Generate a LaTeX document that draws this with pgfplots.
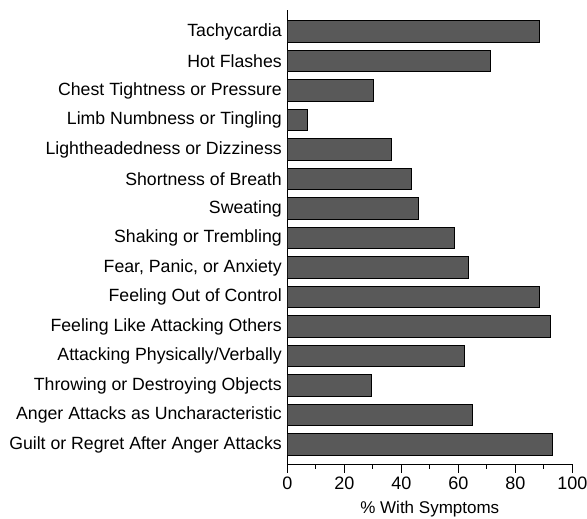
\documentclass[border=0pt]{standalone}
\usepackage{pgfplots}
\pgfplotsset{compat=1.18}
\usepackage{fontspec}
\setmainfont{Liberation Sans}
\definecolor{barfill}{HTML}{595959}
\begin{document}
\begin{tikzpicture}
\path[use as bounding box] (-287.3pt,-55pt) rectangle (299.7pt,464pt);
\begin{axis}[
  at={(0,0)}, anchor=south west,
  scale only axis, width=285pt, height=454pt,
  xbar, bar width=21.5pt,
  xmin=0, xmax=100, ymin=-0.66, ymax=14.73,
  axis x line*=bottom, axis y line*=left,
  axis line style={line width=0.9pt, black},
  xtick={0,20,...,100}, minor xtick={10,30,...,90},
  ytick={0,...,14},
  yticklabels={Guilt or Regret After Anger Attacks,Anger Attacks as Uncharacteristic,Throwing or Destroying Objects,Attacking Physically/Verbally,Feeling Like Attacking Others,Feeling Out of Control,{Fear, Panic, or Anxiety},Shaking or Trembling,Sweating,Shortness of Breath,Lightheadedness or Dizziness,Limb Numbness or Tingling,Chest Tightness or Pressure,Hot Flashes,Tachycardia},
  ytick style={draw=none}, ytick align=inside,
  xtick align=outside,
  x tick style={black, line width=0.9pt},
  major tick length=9pt, minor tick length=5pt,
  /pgf/number format/assume math mode=true,
  yticklabel style={font=\fontsize{17.7}{20}\selectfont, xshift=-2pt},
  xticklabel style={font=\fontsize{18}{20}\selectfont},
  xlabel={\% With Symptoms},
  xlabel style={font=\fontsize{17}{20}\selectfont, yshift=-5pt},
]
\addplot[draw=black, line width=0.9pt, fill=barfill] coordinates {
  (93.2,0) (65.0,1) (29.7,2) (62.2,3) (92.4,4) (88.3,5) (63.6,6) (58.7,7)
  (45.9,8) (43.7,9) (36.5,10) (7.2,11) (30.4,12) (71.3,13) (88.4,14)
};
\end{axis}
\end{tikzpicture}
\end{document}
